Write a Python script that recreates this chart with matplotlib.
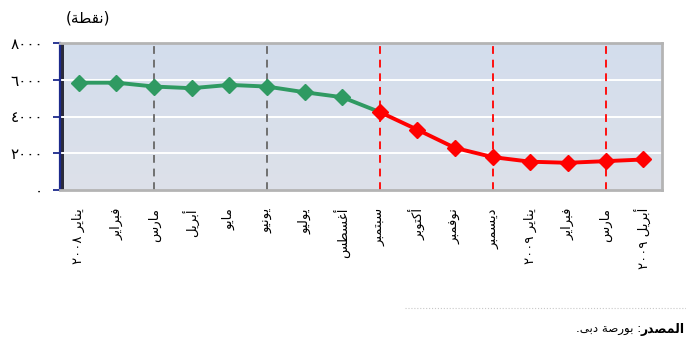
import re

import matplotlib

matplotlib.use("Agg")
import matplotlib.pyplot as plt
import numpy as np
from matplotlib.patches import Rectangle


MONTHS = [
    "يناير ٢٠٠٨", "فبراير", "مارس", "أبريل", "مايو", "يونيو", "يوليو", "أغسطس",
    "سبتمبر", "أكتوبر", "نوفمبر", "ديسمبر", "يناير ٢٠٠٩", "فبراير", "مارس", "أبريل ٢٠٠٩",
]
INDEX_POINTS = [5840, 5840, 5630, 5540, 5720, 5630, 5320, 5050,
                4240, 3280, 2290, 1790, 1540, 1480, 1570, 1660]
GREEN_UPTO = 8  # green segment runs from January to September 2008
GRAY_QUARTERS = [2, 5]
RED_QUARTERS = [8, 11, 14]
Y_TICKS = [0, 2000, 4000, 6000, 8000]
Y_TICK_LABELS = ["٠", "٢٠٠٠", "٤٠٠٠", "٦٠٠٠", "٨٠٠٠"]
UNIT_LABEL = "(نقطة)"
SOURCE_BOLD = "المصدر"
SOURCE_REST = ": بورصة دبى."

# (first presentation-form code point, number of forms) iso/fin/ini/med
_FORMS = {
    "ء": (0xFE80, 1), "آ": (0xFE81, 2), "أ": (0xFE83, 2), "ؤ": (0xFE85, 2),
    "إ": (0xFE87, 2), "ئ": (0xFE89, 4), "ا": (0xFE8D, 2), "ب": (0xFE8F, 4),
    "ة": (0xFE93, 2), "ت": (0xFE95, 4), "ث": (0xFE99, 4), "ج": (0xFE9D, 4),
    "ح": (0xFEA1, 4), "خ": (0xFEA5, 4), "د": (0xFEA9, 2), "ذ": (0xFEAB, 2),
    "ر": (0xFEAD, 2), "ز": (0xFEAF, 2), "س": (0xFEB1, 4), "ش": (0xFEB5, 4),
    "ص": (0xFEB9, 4), "ض": (0xFEBD, 4), "ط": (0xFEC1, 4), "ظ": (0xFEC5, 4),
    "ع": (0xFEC9, 4), "غ": (0xFECD, 4), "ف": (0xFED1, 4), "ق": (0xFED5, 4),
    "ك": (0xFED9, 4), "ل": (0xFEDD, 4), "م": (0xFEE1, 4), "ن": (0xFEE5, 4),
    "ه": (0xFEE9, 4), "و": (0xFEED, 2), "ى": (0xFEEF, 2), "ي": (0xFEF1, 4),
}
_MIRROR = {"(": ")", ")": "("}


def _shape(text: str) -> str:
    out = []
    n = len(text)
    for i, ch in enumerate(text):
        if ch not in _FORMS:
            out.append(ch)
            continue
        base, count = _FORMS[ch]
        prev = text[i - 1] if i > 0 else ""
        nxt = text[i + 1] if i < n - 1 else ""
        joins_prev = prev in _FORMS and _FORMS[prev][1] == 4 and count > 1
        joins_next = nxt in _FORMS and count == 4 and _FORMS[nxt][1] > 1
        if joins_prev and joins_next:
            out.append(chr(base + 3))
        elif joins_prev:
            out.append(chr(base + 1))
        elif joins_next:
            out.append(chr(base + 2))
        else:
            out.append(chr(base))
    return "".join(out)


def rtl(text: str) -> str:
    visual = _shape(text)[::-1]
    visual = re.sub(r"[0-9\u0660-\u0669]+", lambda m: m.group(0)[::-1], visual)
    return "".join(_MIRROR.get(c, c) for c in visual)


plt.rcParams.update({"font.family": ["DejaVu Sans"], "font.size": 9})

fig = plt.figure(figsize=(6.86, 3.44), dpi=100)
ax = fig.add_axes([60 / 686, 154 / 344, 602 / 686, 147 / 344])

x = np.arange(len(INDEX_POINTS))
ax.set_xlim(-0.5, len(INDEX_POINTS) - 0.5)
ax.set_ylim(0, 8000)

# soft blue-grey backdrop
grad = np.linspace(0, 1, 64).reshape(-1, 1)
ax.imshow(grad, extent=[0, 1, 0, 1], transform=ax.transAxes, aspect="auto",
          cmap=matplotlib.colors.LinearSegmentedColormap.from_list(
              "bg", ["#d3dded", "#dde1e9"]), zorder=0)
ax.add_patch(Rectangle((0, 0), 0.007, 1, transform=ax.transAxes,
                       color="#2b2b3a", zorder=1, linewidth=0))

for yv in Y_TICKS[1:-1]:
    ax.axhline(yv, color="white", linewidth=1.4, zorder=1)

for q in GRAY_QUARTERS:
    ax.axvline(q, color="#707070", linewidth=1.4, dashes=(4, 3), zorder=2)
for q in RED_QUARTERS:
    ax.axvline(q, color="#ff1010", linewidth=1.4, dashes=(4, 3), zorder=2)

g = GREEN_UPTO
ax.plot(x[: g + 1], INDEX_POINTS[: g + 1], color="#2f9a62", linewidth=2.8, zorder=3)
ax.plot(x[g:], INDEX_POINTS[g:], color="#ff0000", linewidth=2.8, zorder=3)
ax.plot(x[:g], INDEX_POINTS[:g], linestyle="none", marker="D", markersize=8.5,
        color="#2f9a62", zorder=4)
ax.plot(x[g:], INDEX_POINTS[g:], linestyle="none", marker="D", markersize=8.5,
        color="#ff0000", zorder=4)

for side in ("top", "right", "bottom"):
    ax.spines[side].set_color("#b4b4b4")
    ax.spines[side].set_linewidth(2)
ax.spines["left"].set_color("#1c2a8c")
ax.spines["left"].set_linewidth(1.6)

ax.set_yticks(Y_TICKS)
ax.set_yticklabels([rtl(t) for t in Y_TICK_LABELS], fontsize=11)
ax.tick_params(axis="y", length=5, width=1.3, color="#1c2a8c", pad=7)

ax.set_xticks(x)
ax.set_xticklabels([rtl(m) for m in MONTHS], rotation=90, va="top", ha="center",
                   fontsize=9.5)
ax.tick_params(axis="x", length=0, pad=13)

fig.text(88 / 686, 1 - 18 / 344, rtl(UNIT_LABEL), ha="center", va="center",
         fontsize=11)

fig.add_artist(plt.Line2D([405 / 686, 1.0], [1 - 308 / 344] * 2,
                          color="#c8c8c8", linewidth=0.8, linestyle=":"))
bold = fig.text(685 / 686, 1 - 329 / 344, rtl(SOURCE_BOLD), ha="right",
                va="center", fontsize=9, fontweight="bold")
fig.canvas.draw()
bb = bold.get_window_extent()
fig.text(bb.x0 / fig.bbox.width, 1 - 329 / 344, rtl(SOURCE_REST), ha="right",
         va="center", fontsize=8.5)

fig.savefig("out.png", dpi=100)
